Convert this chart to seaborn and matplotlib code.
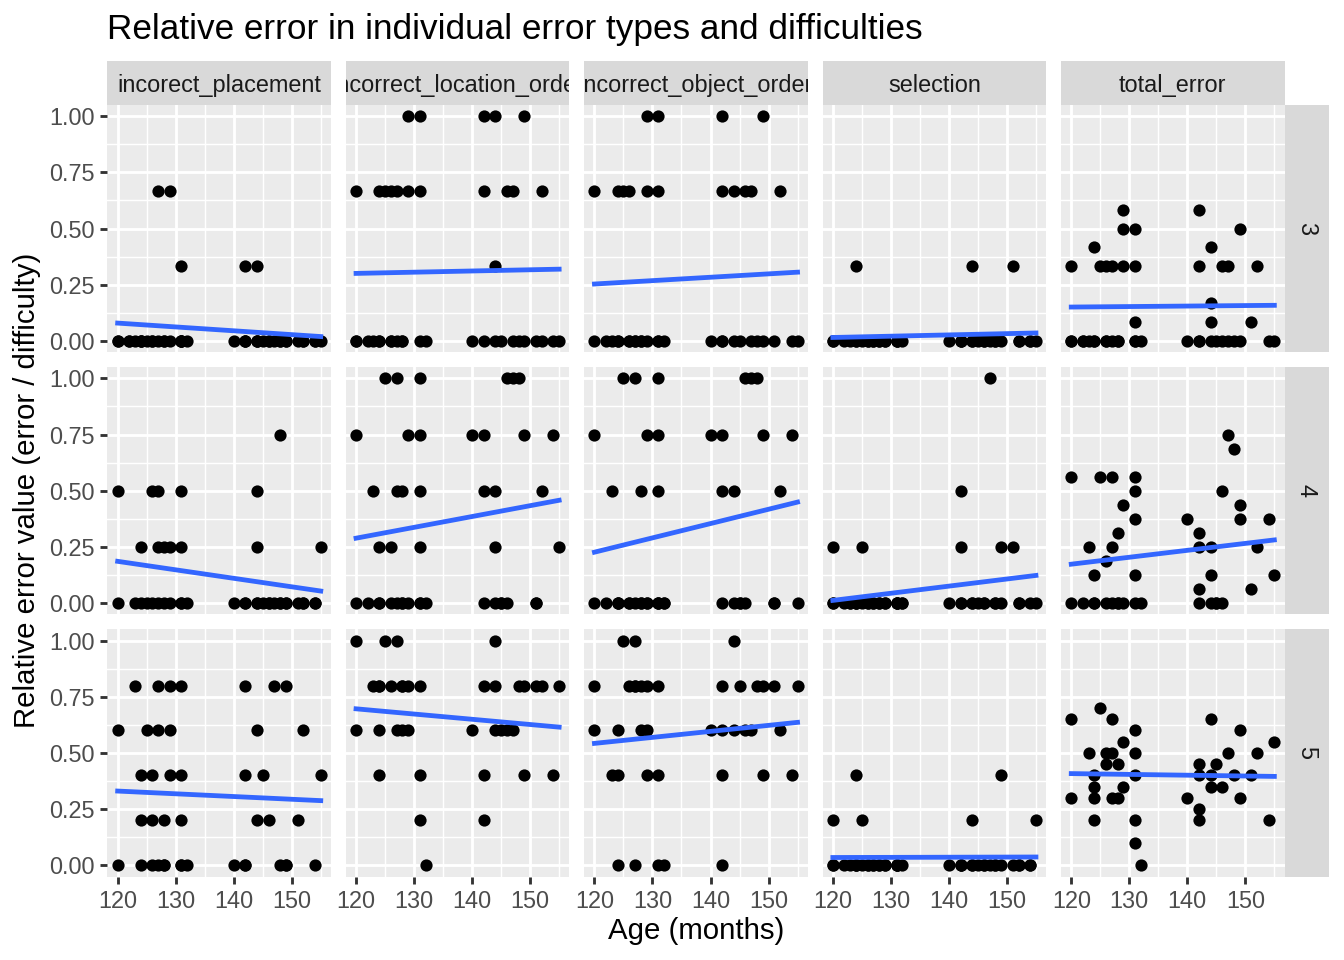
import pandas as pd
import numpy as np
import matplotlib
matplotlib.use("Agg")
import matplotlib.pyplot as plt
import seaborn as sns

# Facet categories
error_types = ["incorect_placement", "incorrect_location_order",
               "incorrect_object_order", "selection", "total_error"]
difficulties = [3, 4, 5]

# Tick labels
x_ticks = [120, 130, 140, 150]
y_ticks = [0.0, 0.25, 0.5, 0.75, 1.0]
y_tick_labels = ["0.00", "0.25", "0.50", "0.75", "1.00"]

# Points: relative error value -> ages (months)
# (repeated ages stand for points drawn on top of each other)
# difficulty 3
placement_3 = {0.667: [127, 129], 0.333: [131, 142, 144],
               0: [120, 122, 123, 124, 125, 126, 127, 128, 129, 131, 132, 140, 142, 144,
                   145, 146, 147, 148, 149, 151, 152, 154, 155,
                   120, 122, 124, 124, 126, 128, 131, 131, 131, 142, 142, 144, 144, 146,
                   148, 149, 152, 154]}
location_3 = {1.0: [129, 131, 142, 144, 149],
              0.667: [120, 124, 125, 126, 127, 129, 131, 142, 146, 147, 152],
              0.333: [144],
              0: [120, 123, 124, 126, 127, 128, 131, 132, 140, 142, 144, 145, 147, 148,
                  149, 151, 154, 155, 120, 122, 124, 126, 128, 152]}
object_3 = {1.0: [129, 131, 142, 149],
            0.667: [120, 124, 125, 126, 129, 131, 142, 144, 146, 147, 152],
            0: [120, 123, 124, 126, 127, 128, 131, 132, 140, 142, 144, 145, 148, 149,
                151, 154, 155, 122, 124, 126, 127, 128, 129, 131, 142, 147]}
selection_3 = {0.333: [124, 144, 151],
               0: [120, 123, 124, 125, 126, 127, 128, 129, 131, 132, 140, 142, 144, 145,
                   146, 147, 148, 149, 152, 154, 155,
                   120, 122, 124, 126, 127, 128, 129, 131, 131, 142, 142, 144, 146, 148,
                   152, 154]}
total_3 = {0.583: [129, 142], 0.5: [129, 131, 149], 0.417: [124, 144],
           0.333: [120, 125, 126, 127, 129, 131, 142, 146, 147, 152],
           0.167: [144], 0.083: [131, 144, 151],
           0: [120, 122, 124, 126, 127, 128, 131, 132, 140, 142, 144, 145, 147, 148, 154,
               155, 120, 122, 123, 124, 126, 128, 131, 142, 146, 149]}

# difficulty 4
placement_4 = {0.75: [148], 0.5: [120, 126, 127, 131, 144],
               0.25: [124, 127, 128, 129, 131, 144, 155],
               0: [120, 123, 124, 125, 126, 127, 128, 129, 131, 132, 140, 142, 144, 145,
                   146, 147, 148, 149, 151, 152, 154,
                   131, 142, 144, 146, 148, 149, 152, 154]}
location_4 = {1.0: [125, 127, 131, 146, 147, 148],
              0.75: [120, 129, 131, 140, 142, 149, 154],
              0.5: [123, 127, 128, 131, 142, 144, 152],
              0.25: [124, 126, 131, 144, 155],
              0: [120, 124, 126, 127, 128, 129, 131, 132, 142, 144, 145, 146, 151,
                  122, 124, 128, 131, 151, 145]}
object_4 = {1.0: [125, 127, 131, 146, 147, 148],
            0.75: [120, 129, 131, 140, 142, 149, 154],
            0.5: [123, 128, 131, 142, 144, 152],
            0: [120, 124, 126, 127, 128, 129, 131, 132, 142, 144, 145, 146, 151, 155,
                122, 124, 124, 126, 128, 129, 131, 131, 132, 145, 151]}
selection_4 = {1.0: [147], 0.5: [142], 0.25: [120, 125, 142, 149, 151],
               0: [120, 123, 124, 125, 126, 127, 128, 129, 131, 132, 140, 142, 144, 145,
                   146, 148, 149, 152, 154, 155,
                   120, 122, 123, 124, 124, 126, 127, 128, 129, 131, 131, 131, 132, 142,
                   144, 146, 148, 152]}
total_4 = {0.75: [147], 0.6875: [148], 0.5625: [120, 125, 127, 131], 0.5: [131, 146],
           0.4375: [129, 149], 0.375: [131, 140, 149, 154], 0.3125: [128, 142],
           0.25: [123, 127, 142, 144, 152], 0.1875: [126], 0.125: [124, 131, 144, 155],
           0.0625: [142, 151],
           0: [120, 124, 126, 127, 128, 129, 131, 132, 142, 144, 145, 146, 122, 124, 128,
               145]}

# difficulty 5
placement_5 = {0.8: [123, 127, 129, 131, 142, 147, 149],
               0.6: [120, 125, 127, 129, 144, 152],
               0.4: [124, 126, 129, 131, 142, 145, 155],
               0.2: [124, 126, 128, 131, 144, 146, 151],
               0: [120, 124, 127, 128, 131, 132, 140, 142, 148, 149, 154,
                   126, 128, 131, 142, 149]}
location_5 = {1.0: [120, 125, 127, 144],
              0.8: [123, 124, 126, 128, 129, 131, 142, 144, 148, 149, 151, 152, 155,
                    124, 128],
              0.6: [120, 124, 127, 128, 129, 140, 144, 145, 146, 147],
              0.4: [124, 131, 142, 149, 154],
              0.2: [131, 142], 0: [132]}
object_5 = {1.0: [125, 127, 144],
            0.8: [120, 126, 127, 128, 129, 131, 142, 145, 148, 149, 151, 155, 127],
            0.6: [120, 124, 128, 129, 140, 142, 144, 146, 147, 152],
            0.4: [123, 124, 129, 131, 142, 149, 154],
            0: [124, 127, 131, 132, 142]}
selection_5 = {0.4: [124, 149], 0.2: [120, 125, 144, 155],
               0: [120, 123, 124, 125, 126, 127, 128, 129, 131, 132, 140, 142, 144, 145,
                   146, 147, 148, 149, 151, 152, 154,
                   120, 122, 124, 124, 126, 127, 128, 129, 131, 131, 131, 142, 142, 144,
                   146, 148, 152, 154]}
total_5 = {0.7: [125], 0.65: [120, 127, 144], 0.6: [131, 149], 0.55: [129, 155],
           0.5: [123, 126, 127, 131, 147, 152], 0.45: [126, 128, 142, 145],
           0.4: [124, 131, 142, 144, 148, 151], 0.35: [124, 129, 144, 146],
           0.3: [120, 124, 127, 128, 140, 149], 0.25: [142],
           0.2: [124, 131, 142, 154], 0.1: [131], 0: [132]}

panels = {
    3: [placement_3, location_3, object_3, selection_3, total_3],
    4: [placement_4, location_4, object_4, selection_4, total_4],
    5: [placement_5, location_5, object_5, selection_5, total_5],
}

# Long format table
rows = []
for diff in difficulties:
    for etype, levels in zip(error_types, panels[diff]):
        for val, ages in levels.items():
            for age in ages:
                rows.append({"type": etype, "difficulty": diff,
                             "age": age, "rel_error": val})
df = pd.DataFrame(rows)

plt.rcParams['font.family'] = ['Liberation Sans', 'DejaVu Sans']

W, H = 1344, 960
fig, axes = plt.subplots(3, 5, figsize=(7, 5), dpi=192)
fig.subplots_adjust(left=107.5 / W, right=1284.5 / W,
                    top=1 - 105 / H, bottom=1 - 876.5 / H,
                    wspace=15 / 223.4, hspace=15 / 247.2)

for i, diff in enumerate(difficulties):
    for j, etype in enumerate(error_types):
        ax = axes[i, j]
        sub = df[(df["type"] == etype) & (df["difficulty"] == diff)]
        sns.regplot(data=sub, x="age", y="rel_error", ax=ax, ci=None, truncate=True,
                    scatter_kws=dict(s=21, color="black", linewidths=0, alpha=1),
                    line_kws=dict(color="#3366FF", lw=1.8))
        ax.set_facecolor("#EBEBEB")
        ax.set_xlim(118.25, 156.75)
        ax.set_ylim(-0.05, 1.05)
        ax.set_xticks(x_ticks)
        ax.set_xticks([125, 135, 145, 155], minor=True)
        ax.set_yticks(y_ticks)
        ax.set_yticks([0.125, 0.375, 0.625, 0.875], minor=True)
        ax.grid(which="major", color="white", lw=1.07)
        ax.grid(which="minor", color="white", lw=0.53)
        ax.set_axisbelow(True)
        for s in ax.spines.values():
            s.set_visible(False)
        ax.set_xlabel("")
        ax.set_ylabel("")
        ax.tick_params(which="minor", length=0)
        ax.tick_params(which="major", length=2.75, width=1.07, color="#333333",
                       labelsize=8.8, labelcolor="#4D4D4D", pad=2.2,
                       bottom=(i == 2), left=(j == 0),
                       labelbottom=(i == 2), labelleft=(j == 0))
        if j == 0:
            ax.set_yticklabels(y_tick_labels)

        pos = ax.get_position()
        # column strips on top
        if i == 0:
            sax = fig.add_axes([pos.x0, pos.y1, pos.width, 44 / H])
            sax.set_facecolor("#D9D9D9")
            sax.set_xticks([])
            sax.set_yticks([])
            for s in sax.spines.values():
                s.set_visible(False)
            sax.text(0.5, 0.45, etype, ha="center", va="center", size=8.8,
                     color="#1A1A1A", clip_on=True, transform=sax.transAxes)
        # row strips on the right
        if j == 4:
            rax = fig.add_axes([pos.x1, pos.y0, 44 / W, pos.height])
            rax.set_facecolor("#D9D9D9")
            rax.set_xticks([])
            rax.set_yticks([])
            for s in rax.spines.values():
                s.set_visible(False)
            rax.text(0.5, 0.5, str(diff), ha="center", va="center", size=8.8,
                     rotation=-90, color="#1A1A1A", transform=rax.transAxes)

# Titles
fig.text(107.5 / W, 1 - 29 / H, "Relative error in individual error types and difficulties",
         ha="left", va="center", size=13.2, color="black")
fig.text(696 / W, 1 - 931 / H, "Age (months)", ha="center", va="center", size=11)
fig.text(27 / W, 1 - 490 / H, "Relative error value (error / difficulty)",
         ha="center", va="center", rotation=90, size=11)

fig.savefig("out.png", dpi=192)
